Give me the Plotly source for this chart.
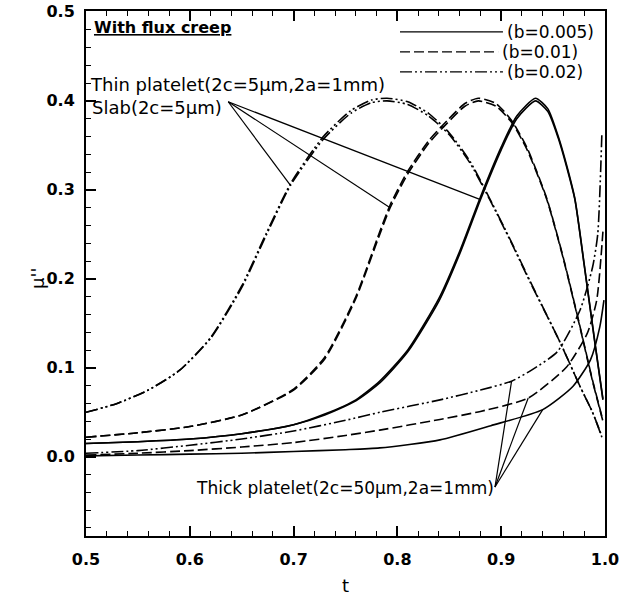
import plotly.graph_objects as go

# ---------------- data ----------------
# b = 0.02 (dash-dot-dot), thin platelet 2c=5um and slab 2c=5um
t_b02 = [0.50, 0.53, 0.56, 0.59, 0.62, 0.65, 0.674, 0.697, 0.728, 0.755, 0.775, 0.79,
         0.81, 0.83, 0.85, 0.87, 0.889, 0.91, 0.928, 0.957, 0.976, 0.988, 0.997]
thin_b02 = [0.050, 0.060, 0.075, 0.097, 0.133, 0.190, 0.250, 0.305, 0.356, 0.386, 0.398, 0.400,
            0.396, 0.383, 0.362, 0.330, 0.289, 0.240, 0.196, 0.128, 0.079, 0.050, 0.022]
slab_b02 = [0.050, 0.060, 0.075, 0.097, 0.134, 0.192, 0.252, 0.307, 0.359, 0.389, 0.401, 0.403,
            0.399, 0.386, 0.364, 0.332, 0.290, 0.241, 0.197, 0.128, 0.079, 0.050, 0.023]

# b = 0.01 (dashed)
t_b01 = [0.50, 0.55, 0.60, 0.65, 0.70, 0.73, 0.76, 0.783, 0.793, 0.81, 0.83, 0.848, 0.865,
         0.878, 0.895, 0.91, 0.925, 0.944, 0.96, 0.975, 0.988, 0.998]
thin_b01 = [0.022, 0.027, 0.034, 0.047, 0.075, 0.110, 0.178, 0.250, 0.280, 0.318, 0.352, 0.375,
            0.394, 0.400, 0.394, 0.376, 0.345, 0.289, 0.222, 0.150, 0.085, 0.040]
slab_b01 = [0.022, 0.027, 0.034, 0.047, 0.076, 0.112, 0.180, 0.253, 0.283, 0.321, 0.355, 0.378,
            0.397, 0.403, 0.397, 0.378, 0.347, 0.290, 0.223, 0.151, 0.086, 0.041]

# b = 0.005 (solid)
t_b005 = [0.50, 0.55, 0.60, 0.65, 0.70, 0.73, 0.76, 0.783, 0.81, 0.84, 0.86, 0.88, 0.90,
          0.915, 0.933, 0.945, 0.955, 0.963, 0.971, 0.98, 0.99, 0.998]
thin_b005 = [0.015, 0.017, 0.020, 0.026, 0.036, 0.047, 0.063, 0.083, 0.118, 0.175, 0.228, 0.289,
             0.345, 0.380, 0.400, 0.388, 0.358, 0.326, 0.289, 0.215, 0.130, 0.064]
slab_b005 = [0.015, 0.017, 0.020, 0.026, 0.036, 0.048, 0.064, 0.085, 0.120, 0.178, 0.231, 0.292,
             0.348, 0.383, 0.403, 0.391, 0.360, 0.328, 0.290, 0.216, 0.131, 0.065]

# thick platelet (2c=50um, 2a=1mm)
t_thick02 = [0.50, 0.55, 0.60, 0.65, 0.70, 0.75, 0.783, 0.841, 0.88, 0.91, 0.93, 0.954,
             0.976, 0.988, 0.993, 0.997]
thick_b02 = [0.004, 0.007, 0.013, 0.020, 0.029, 0.041, 0.050, 0.064, 0.075, 0.085, 0.098, 0.118,
             0.165, 0.213, 0.250, 0.364]
t_thick01 = [0.50, 0.55, 0.60, 0.65, 0.70, 0.75, 0.783, 0.841, 0.88, 0.926, 0.963, 0.983,
             0.992, 0.998]
thick_b01 = [0.002, 0.004, 0.007, 0.011, 0.016, 0.024, 0.030, 0.042, 0.051, 0.066, 0.101, 0.139,
             0.176, 0.253]
t_thick005 = [0.50, 0.55, 0.60, 0.65, 0.70, 0.75, 0.783, 0.841, 0.89, 0.94, 0.969, 0.986,
              0.995, 0.999]
thick_b005 = [0.001, 0.002, 0.003, 0.004, 0.006, 0.008, 0.010, 0.019, 0.035, 0.053, 0.079, 0.109,
              0.146, 0.176]

legend_labels = ["(b=0.005)", "(b=0.01)", "(b=0.02)"]
x_ticks = [0.5, 0.6, 0.7, 0.8, 0.9, 1.0]
y_ticks = [0.0, 0.1, 0.2, 0.3, 0.4, 0.5]

# ---------------- styles ----------------
FONT = "DejaVu Sans"
LW = 1.6
DASH_SOLID = "solid"
DASH_DASHED = "10px,4px"
DASH_DDOT = "12px,3px,2px,3px,2px,3px"

fig = go.Figure()


def add_line(x, y, dash):
    fig.add_trace(go.Scatter(x=x, y=y, mode="lines", showlegend=False, hoverinfo="skip",
                             line=dict(color="black", width=LW, dash=dash,
                                       shape="spline", smoothing=0.6)))


for x, y, d in [(t_b02, thin_b02, DASH_DDOT), (t_b02, slab_b02, DASH_DDOT),
                (t_b01, thin_b01, DASH_DASHED), (t_b01, slab_b01, DASH_DASHED),
                (t_b005, thin_b005, DASH_SOLID), (t_b005, slab_b005, DASH_SOLID),
                (t_thick02, thick_b02, DASH_DDOT), (t_thick01, thick_b01, DASH_DASHED),
                (t_thick005, thick_b005, DASH_SOLID)]:
    add_line(x, y, d)

# pointer lines for annotations (targets picked from the data arrays)
thin_origin = (0.637, 0.399)
thin_targets = [(t_b02[7], thin_b02[7]), (t_b01[8], thin_b01[8]), (t_b005[11], thin_b005[11])]
thick_origin = (0.894, -0.034)
thick_targets = [(t_thick02[9], thick_b02[9]), (t_thick01[9], thick_b01[9]),
                 (t_thick005[9], thick_b005[9])]
for (ox, oy), targets in [(thin_origin, thin_targets), (thick_origin, thick_targets)]:
    for tx, ty in targets:
        fig.add_shape(type="line", x0=ox, y0=oy, x1=tx, y1=ty, xref="x", yref="y",
                      line=dict(color="black", width=1.2))

# texts
ann = [
    dict(text="<u>With flux creep</u>", x=0.5055, y=0.483, xanchor="left",
         font=dict(size=16, family=FONT, color="black", weight="bold")),
    dict(text="Thin platelet(2c=5μm,2a=1mm)", x=0.502, y=0.418, xanchor="left",
         font=dict(size=18, family=FONT, color="black")),
    dict(text="Slab(2c=5μm)", x=0.504, y=0.392, xanchor="left",
         font=dict(size=18, family=FONT, color="black")),
    dict(text="Thick platelet(2c=50μm,2a=1mm)", x=0.604, y=-0.035, xanchor="left",
         font=dict(size=17, family=FONT, color="black")),
]
for a in ann:
    fig.add_annotation(xref="x", yref="y", showarrow=False, yanchor="middle", **a)

# custom legend
leg_rows = [(0.4775, DASH_SOLID, 0.9017), (0.455, DASH_DASHED, 0.897), (0.4326, DASH_DDOT, 0.9017)]
for (yy, d, xe), lab in zip(leg_rows, legend_labels):
    fig.add_shape(type="line", x0=0.8025, x1=xe, y0=yy, y1=yy, xref="x", yref="y",
                  line=dict(color="black", width=1.3, dash=d))
    fig.add_annotation(xref="x", yref="y", x=xe + 0.002, y=yy, text=lab, showarrow=False,
                       xanchor="left", yanchor="middle",
                       font=dict(size=17, family=FONT, color="black"))

# y axis title
fig.add_annotation(xref="paper", yref="paper", x=-0.118, y=0.49, text="μ''", textangle=-90,
                   showarrow=False, font=dict(size=18, family=FONT, color="black"))

# x axis title
fig.add_annotation(xref="paper", yref="paper", x=0.5, y=-0.094, text="t", yanchor="middle",
                   showarrow=False, font=dict(size=18, family=FONT, color="black"))

axis_common = dict(showgrid=False, zeroline=False, showline=True, linecolor="black",
                   linewidth=2, ticks="inside", ticklen=10, tickwidth=1.5, tickcolor="black",
                   automargin=False,
                   tickfont=dict(size=16, family=FONT, color="black", weight="bold"))

fig.update_xaxes(range=[0.5, 1.0], tickvals=x_ticks, tickformat=".1f", mirror="ticks",
                 ticklabelstandoff=8,
                 minor=dict(ticks="inside", dtick=0.02, ticklen=5, tickwidth=1.2,
                            tickcolor="black"),
                 **axis_common)
fig.update_yaxes(range=[-0.089, 0.501], tickvals=y_ticks, tickformat=".1f", mirror=True,
                 ticklabelstandoff=6,
                 minor=dict(ticks="inside", dtick=0.02, ticklen=5, tickwidth=1.2,
                            tickcolor="black"),
                 **axis_common)

fig.update_layout(width=635, height=603, margin=dict(l=86, r=30, t=11, b=67),
                  plot_bgcolor="white", paper_bgcolor="white",
                  font=dict(family=FONT, color="black"))

fig.write_html("out.html")
